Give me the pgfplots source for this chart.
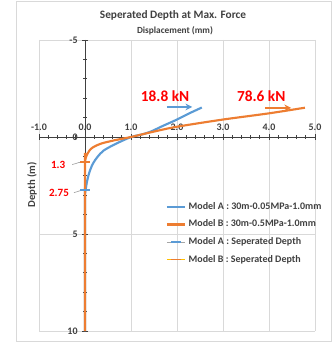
\documentclass[border=0pt]{standalone}
\usepackage{pgfplots}
\pgfplotsset{compat=1.18}
\usepackage{fontspec}
\setmainfont{Carlito}
\usetikzlibrary{arrows.meta}
\definecolor{cA}{HTML}{5B9BD5}
\definecolor{cB}{HTML}{ED7D31}
\definecolor{cGray}{HTML}{A5A5A5}
\definecolor{cYel}{HTML}{FFC000}
\definecolor{txt}{HTML}{404040}
\definecolor{gridc}{HTML}{D9D9D9}
\begin{document}
\begin{tikzpicture}
\begin{axis}[
  name=ax,
  scale only axis, width=207pt, height=218.25pt,
  xmin=-1, xmax=5, ymin=-5, ymax=10, y dir=reverse,
  axis lines=middle,
  hide obscured x ticks=false, hide obscured y ticks=false,
  axis line style={-, black!75, line width=0.7pt},
  xtick={-1,0,...,5}, ytick={-5,0,5,10},
  minor x tick num=4, minor y tick num=4,
  tick align=center,
  major tick length=4pt, minor tick length=3pt,
  tick style={black!75, line width=0.6pt},
  grid=major, major grid style={gridc, line width=0.5pt},
  /pgf/number format/assume math mode=true,
  xticklabel style={anchor=south, yshift=3.5pt, font=\fontsize{7.5}{8}\selectfont\bfseries, text=txt,
    /pgf/number format/.cd, fixed, fixed zerofill, precision=1},
  yticklabel style={font=\fontsize{7.5}{8}\selectfont\bfseries, text=txt},
  legend style={at={(axis cs:1.72,3.15)}, anchor=north west, draw=none, fill=none,
    font=\fontsize{7.5}{8}\selectfont\bfseries, text=txt, row sep=2.4pt, inner sep=1pt},
  legend cell align=left,
  legend image code/.code={\draw[mark repeat=2,mark phase=2] plot coordinates {(0cm,0cm) (0.24cm,0cm) (0.48cm,0cm)};},
  clip=false,
]
\addplot[cA, line width=1.6pt, smooth, tension=0.5] coordinates {
(2.54,-1.52) (2.25,-1.2) (2.0,-0.9) (1.7,-0.58) (1.41,-0.26) (1.2,-0.11) (1.0,0)
(0.68,0.34) (0.41,0.69) (0.27,1.03) (0.17,1.38) (0.11,1.72) (0.065,2.07) (0.035,2.41)
(0.012,2.75) (0,3.0) (0,10)};
\addlegendentry{Model A : 30m-0.05MPa-1.0mm}
\addplot[cB, line width=1.6pt, smooth, tension=0.5] coordinates {
(4.78,-1.51) (4.0,-1.22) (3.0,-0.9) (2.0,-0.53) (1.5,-0.28) (1.0,0)
(0.64,0.17) (0.35,0.34) (0.18,0.52) (0.1,0.69) (0.035,0.95) (0.005,1.2) (0,1.4) (0,10)};
\addlegendentry{Model B : 30m-0.5MPa-1.0mm}
\addplot[cGray, line width=0.7pt, mark=-, mark size=3.5pt, mark options={draw=cA, line width=1.3pt}] coordinates {(0,2.75)};
\addlegendentry{Model A : Seperated Depth}
\addplot[cYel, line width=0.7pt, mark=-, mark size=3.5pt, mark options={draw=cB, line width=1.3pt}] coordinates {(0,1.3)};
\addlegendentry{Model B : Seperated Depth}
% annotations
\draw[cA, line width=1.6pt, -{Stealth[length=5pt,width=5pt]}] (axis cs:1.78,-1.55) -- (axis cs:2.33,-1.55);
\draw[cB, line width=1.6pt, -{Stealth[length=5pt,width=5pt]}] (axis cs:3.91,-1.5) -- (axis cs:4.48,-1.5);
\node[text=red, font=\fontsize{11.5}{13}\selectfont\bfseries] at (axis cs:1.74,-2.1) {18.8 kN};
\node[text=red, font=\fontsize{11.5}{13}\selectfont\bfseries] at (axis cs:3.83,-2.1) {78.6 kN};
\draw[gray!70, line width=0.5pt] (axis cs:-0.28,1.42) .. controls (axis cs:-0.2,1.42) and (axis cs:-0.18,1.3) .. (axis cs:-0.08,1.3);
\draw[gray!70, line width=0.5pt] (axis cs:-0.24,2.87) .. controls (axis cs:-0.16,2.87) and (axis cs:-0.16,2.75) .. (axis cs:-0.08,2.75);
\node[text=red, anchor=east, inner sep=0.5pt, font=\fontsize{8.3}{9}\selectfont\bfseries] at (axis cs:-0.41,1.46) {1.3};
\node[text=red, anchor=east, inner sep=0.5pt, font=\fontsize{8.3}{9}\selectfont\bfseries] at (axis cs:-0.33,2.9) {2.75};
\end{axis}
\pgfresetboundingbox
\begin{scope}[shift={(ax.south west)}]
\draw[gray!30, line width=0.5pt] (-17.25pt,-7.5pt) rectangle (219pt,247.5pt);
\node[text=txt, font=\fontsize{8.5}{10}\selectfont\bfseries] at (100.5pt,237pt) {Seperated Depth at Max. Force};
\node[text=txt, font=\fontsize{7}{8}\selectfont\bfseries] at (102pt,225pt) {Displacement (mm)};
\node[text=txt, rotate=90, font=\fontsize{8}{9}\selectfont\bfseries] at (-5.25pt,109.5pt) {Depth (m)};
\path[use as bounding box] (-29.25pt,-10.5pt) rectangle (221.25pt,248.25pt);
\end{scope}
\end{tikzpicture}
\end{document}
